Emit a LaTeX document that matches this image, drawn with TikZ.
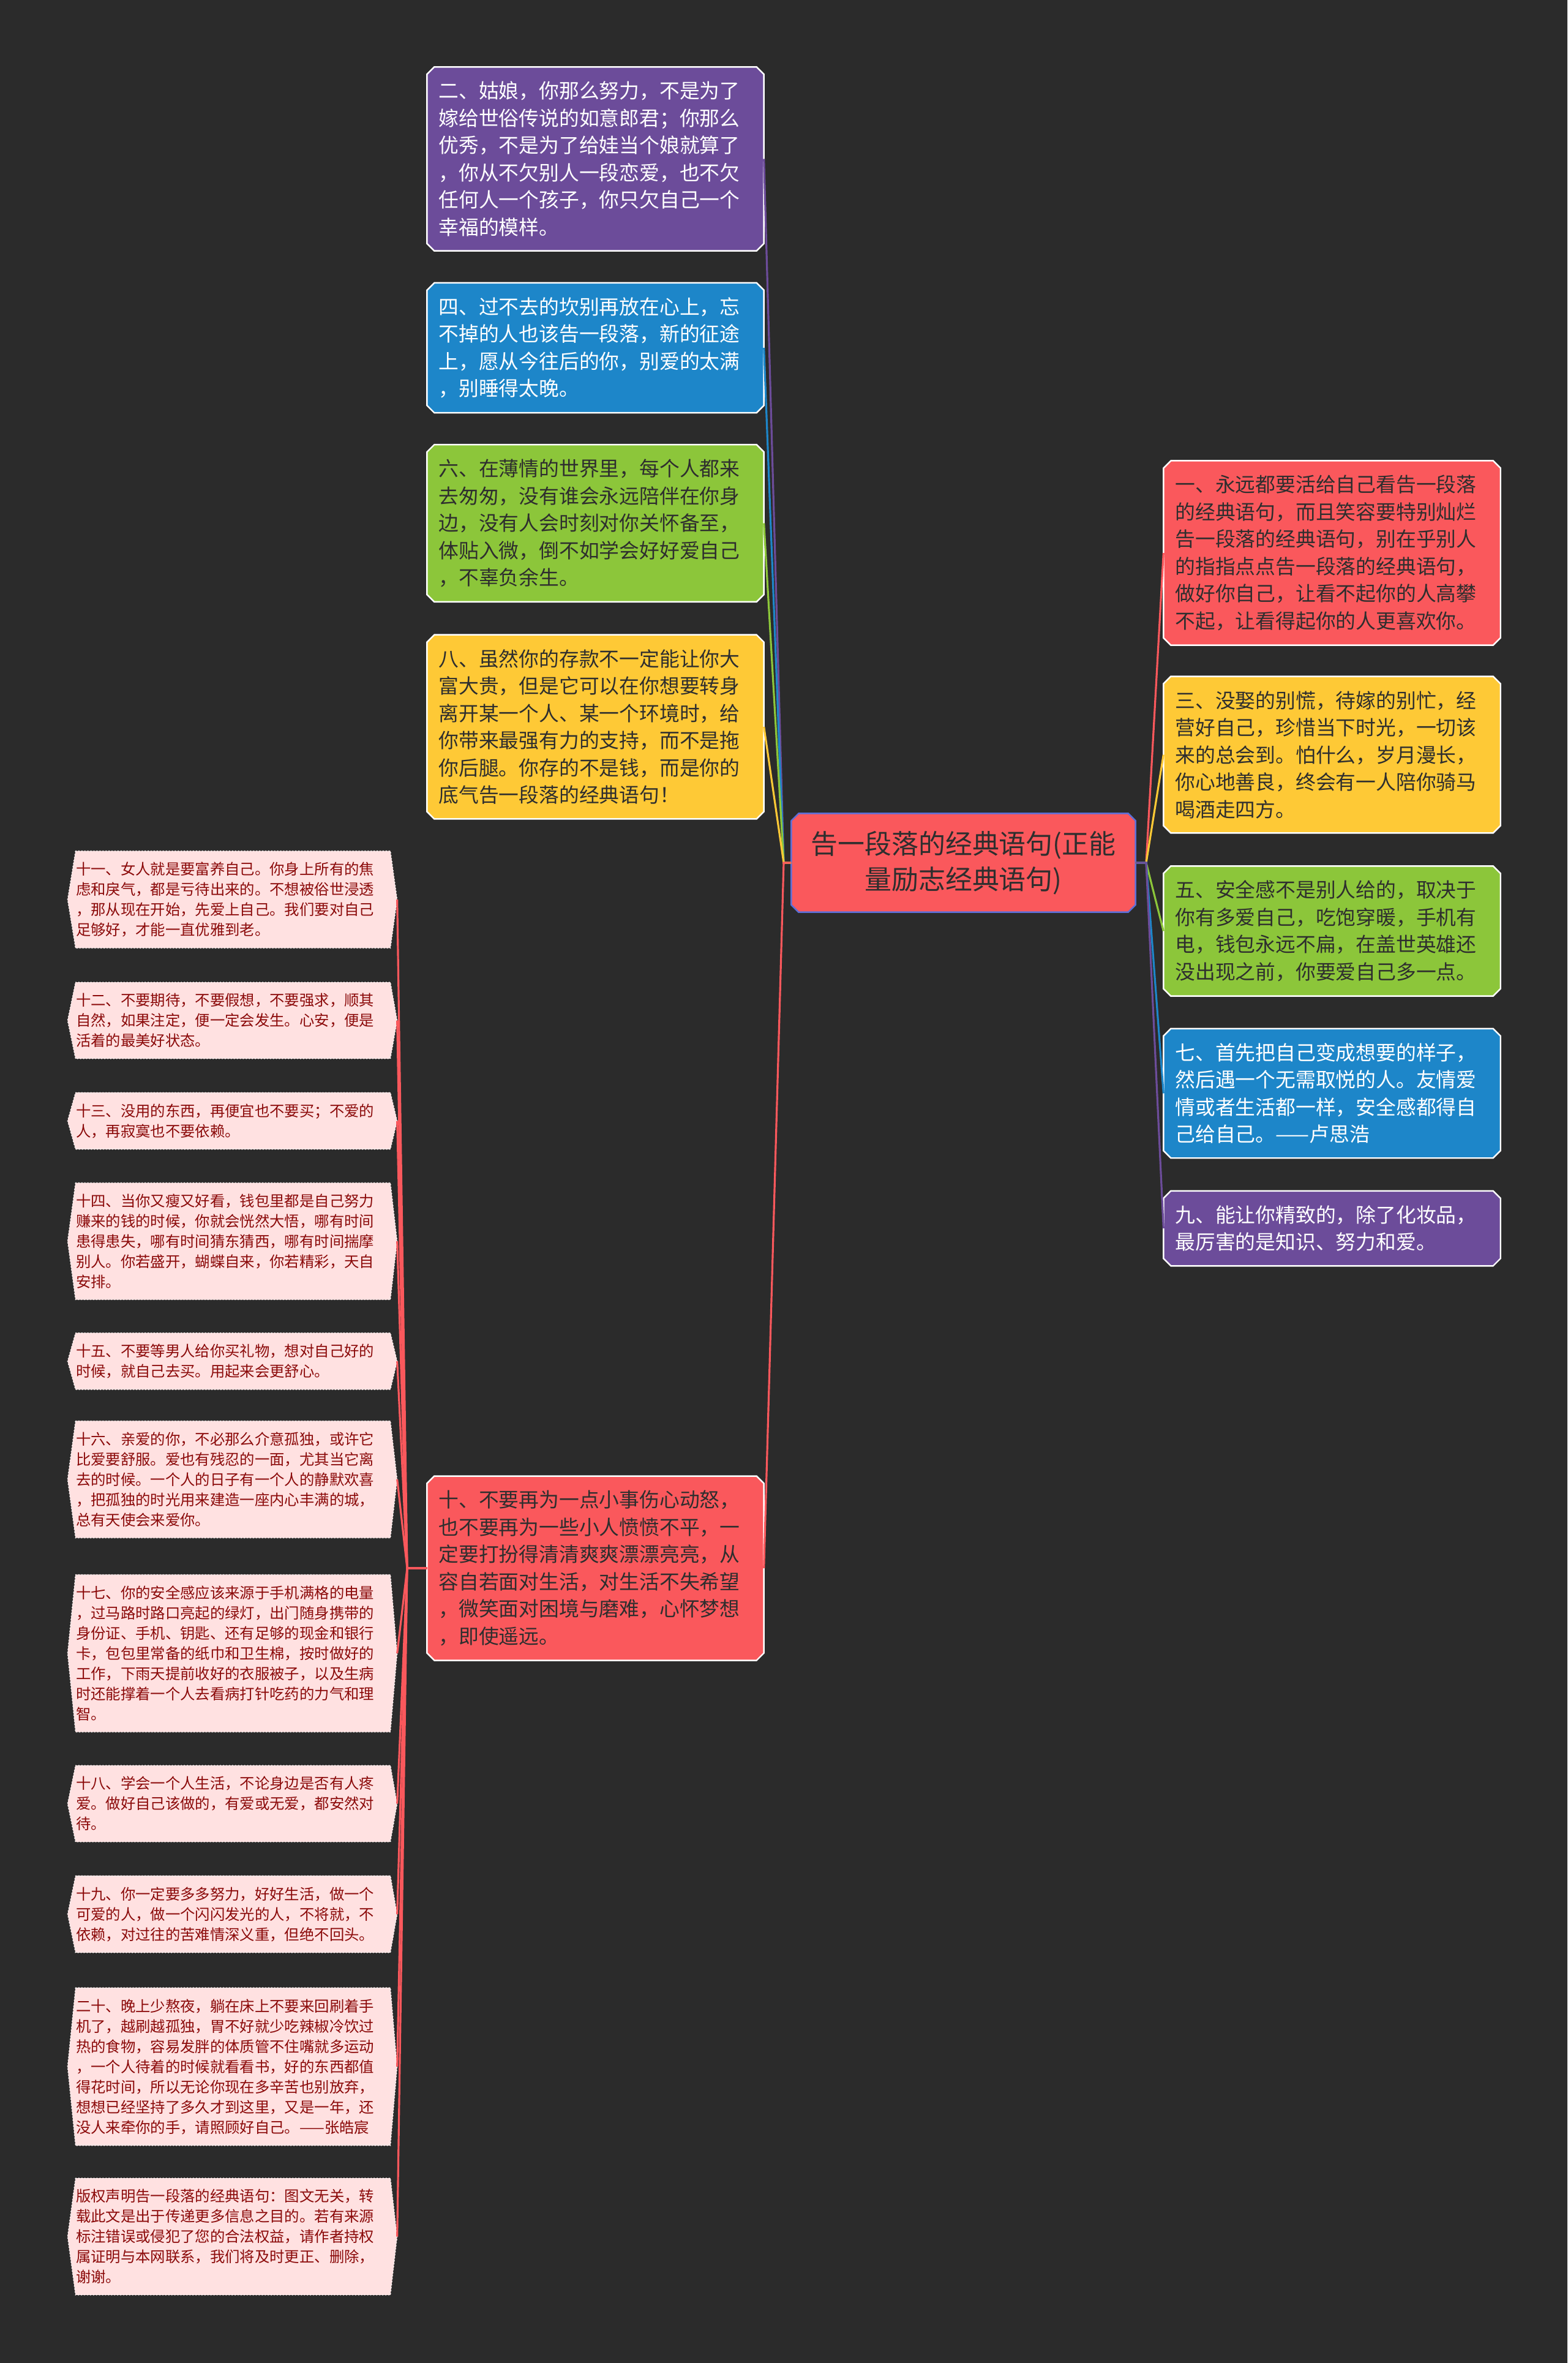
\documentclass[tikz,border=0pt]{standalone}
\usepackage{fontspec}
\setmainfont{Noto Sans CJK SC}
\usepackage{tikz}
\usetikzlibrary{backgrounds}
\usepackage{xcolor}

\definecolor{bgdark}{HTML}{2B2B2B}
\definecolor{boxred}{HTML}{FA585C}
\definecolor{boxpurple}{HTML}{6C4C9A}
\definecolor{boxblue}{HTML}{1D86C9}
\definecolor{boxgreen}{HTML}{8CC63A}
\definecolor{boxyellow}{HTML}{FEC936}
\definecolor{hubblue}{HTML}{5B6FD8}
\definecolor{inkdark}{HTML}{2E2E2E}
\definecolor{leafpink}{HTML}{FFE1E1}
\definecolor{leafred}{HTML}{8B0A0A}

\tikzset{
  hub/.style={rectangle, inner xsep=0pt, inner ysep=2.8mm, text width=56.1mm, align=center,
    text=inkdark, font=\fontsize{12.5pt}{16.5pt}\selectfont},
  topic/.style={rectangle, inner xsep=1.85mm, inner ysep=2.3mm, text width=51.2mm, align=left,
    text=inkdark, font=\fontsize{9.33pt}{12.66pt}\selectfont},
  leaf/.style={rectangle, inner xsep=0pt, inner ysep=1.75mm, text width=51.3mm, align=left,
    text=leafred, font=\fontsize{6.93pt}{9.39pt}\selectfont},
  link/.style={line width=0.9pt},
}

\begin{document}
\begin{tikzpicture}[x=1cm, y=-1cm]

    \useasboundingbox (0,0) rectangle (25.6,38.59);
    \begin{scope}[on background layer]
      \fill[bgdark] (0,0) rectangle (25.6,38.59);
    \end{scope}

    % Tema central
    \node[hub] (root) at (15.735,14.09) {告一段落的经典语句(正能\\量励志经典语句)};
    \coordinate (jl) at (12.80,14.09);
    \coordinate (jr) at (18.72,14.09);

    % Ramas de la izquierda
    \node[topic, text=white] (n2) at (9.725,2.595) {二、姑娘，你那么努力，不是为了\\嫁给世俗传说的如意郎君；你那么\\优秀，不是为了给娃当个娘就算了\\，你从不欠别人一段恋爱，也不欠\\任何人一个孩子，你只欠自己一个\\幸福的模样。};
    \node[topic, text=white] (n4) at (9.725,5.68) {四、过不去的坎别再放在心上，忘\\不掉的人也该告一段落，新的征途\\上，愿从今往后的你，别爱的太满\\，别睡得太晚。};
    \node[topic] (n6) at (9.725,8.545) {六、在薄情的世界里，每个人都来\\去匆匆，没有谁会永远陪伴在你身\\边，没有人会时刻对你关怀备至，\\体贴入微，倒不如学会好好爱自己\\，不辜负余生。};
    \node[topic] (n8) at (9.725,11.87) {八、虽然你的存款不一定能让你大\\富大贵，但是它可以在你想要转身\\离开某一个人、某一个环境时，给\\你带来最强有力的支持，而不是拖\\你后腿。你存的不是钱，而是你的\\底气告一段落的经典语句！};
    \node[topic] (n10) at (9.725,25.61) {十、不要再为一点小事伤心动怒，\\也不要再为一些小人愤愤不平，一\\定要打扮得清清爽爽漂漂亮亮，从\\容自若面对生活，对生活不失希望\\，微笑面对困境与磨难，心怀梦想\\，即使遥远。};

    % Ramas de la derecha
    \node[topic] (n1) at (21.755,9.03) {一、永远都要活给自己看告一段落\\的经典语句，而且笑容要特别灿烂\\告一段落的经典语句，别在乎别人\\的指指点点告一段落的经典语句，\\做好你自己，让看不起你的人高攀\\不起，让看得起你的人更喜欢你。};
    \node[topic] (n3) at (21.755,12.325) {三、没娶的别慌，待嫁的别忙，经\\营好自己，珍惜当下时光，一切该\\来的总会到。怕什么，岁月漫长，\\你心地善良，终会有一人陪你骑马\\喝酒走四方。};
    \node[topic] (n5) at (21.755,15.205) {五、安全感不是别人给的，取决于\\你有多爱自己，吃饱穿暖，手机有\\电，钱包永远不扁，在盖世英雄还\\没出现之前，你要爱自己多一点。};
    \node[topic, text=white] (n7) at (21.755,17.855) {七、首先把自己变成想要的样子，\\然后遇一个无需取悦的人。友情爱\\情或者生活都一样，安全感都得自\\己给自己。——卢思浩};
    \node[topic, text=white] (n9) at (21.755,20.06) {九、能让你精致的，除了化妆品，\\最厉害的是知识、努力和爱。};

    % Hojas del nodo diez
    \coordinate (jp) at (6.65,25.61);
    \node[leaf] (p11) at (3.805,14.69) {十一、女人就是要富养自己。你身上所有的焦\\虑和戾气，都是亏待出来的。不想被俗世浸透\\，那从现在开始，先爱上自己。我们要对自己\\足够好，才能一直优雅到老。};
    \node[leaf] (p12) at (3.805,16.665) {十二、不要期待，不要假想，不要强求，顺其\\自然，如果注定，便一定会发生。心安，便是\\活着的最美好状态。};
    \node[leaf] (p13) at (3.805,18.305) {十三、没用的东西，再便宜也不要买；不爱的\\人，再寂寞也不要依赖。};
    \node[leaf] (p14) at (3.805,20.27) {十四、当你又瘦又好看，钱包里都是自己努力\\赚来的钱的时候，你就会恍然大悟，哪有时间\\患得患失，哪有时间猜东猜西，哪有时间揣摩\\别人。你若盛开，蝴蝶自来，你若精彩，天自\\安排。};
    \node[leaf] (p15) at (3.805,22.23) {十五、不要等男人给你买礼物，想对自己好的\\时候，就自己去买。用起来会更舒心。};
    \node[leaf] (p16) at (3.805,24.16) {十六、亲爱的你，不必那么介意孤独，或许它\\比爱要舒服。爱也有残忍的一面，尤其当它离\\去的时候。一个人的日子有一个人的静默欢喜\\，把孤独的时光用来建造一座内心丰满的城，\\总有天使会来爱你。};
    \node[leaf] (p17) at (3.805,27.00) {十七、你的安全感应该来源于手机满格的电量\\，过马路时路口亮起的绿灯，出门随身携带的\\身份证、手机、钥匙、还有足够的现金和银行\\卡，包包里常备的纸巾和卫生棉，按时做好的\\工作，下雨天提前收好的衣服被子，以及生病\\时还能撑着一个人去看病打针吃药的力气和理\\智。};
    \node[leaf] (p18) at (3.805,29.455) {十八、学会一个人生活，不论身边是否有人疼\\爱。做好自己该做的，有爱或无爱，都安然对\\待。};
    \node[leaf] (p19) at (3.805,31.26) {十九、你一定要多多努力，好好生活，做一个\\可爱的人，做一个闪闪发光的人，不将就，不\\依赖，对过往的苦难情深义重，但绝不回头。};
    \node[leaf] (p20) at (3.805,33.75) {二十、晚上少熬夜，躺在床上不要来回刷着手\\机了，越刷越孤独，胃不好就少吃辣椒冷饮过\\热的食物，容易发胖的体质管不住嘴就多运动\\，一个人待着的时候就看看书，好的东西都值\\得花时间，所以无论你现在多辛苦也别放弃，\\想想已经坚持了多久才到这里，又是一年，还\\没人来牵你的手，请照顾好自己。——张皓宸};
    \node[leaf] (pcr) at (3.805,36.525) {版权声明告一段落的经典语句：图文无关，转\\载此文是出于传递更多信息之目的。若有来源\\标注错误或侵犯了您的合法权益，请作者持权\\属证明与本网联系，我们将及时更正、删除，\\谢谢。};

    % Fondos de las cajas
    \begin{scope}[on background layer]
      \foreach \n/\c/\b in {root/boxred/hubblue, n1/boxred/white, n2/boxpurple/white, n3/boxyellow/white,
          n4/boxblue/white, n5/boxgreen/white, n6/boxgreen/white, n7/boxblue/white,
          n8/boxyellow/white, n9/boxpurple/white, n10/boxred/white}
        \filldraw[fill=\c, draw=\b, line width=0.7pt]
          ([xshift=1.2mm]\n.north west) -- ([xshift=-1.2mm]\n.north east)
          -- ([yshift=-1.2mm]\n.north east) -- ([yshift=1.2mm]\n.south east)
          -- ([xshift=-1.2mm]\n.south east) -- ([xshift=1.2mm]\n.south west)
          -- ([yshift=1.2mm]\n.south west) -- ([yshift=-1.2mm]\n.north west) -- cycle;
      \foreach \n in {p11,p12,p13,p14,p15,p16,p17,p18,p19,p20,pcr}
        \filldraw[fill=leafpink, draw=white, densely dotted, line width=0.4pt]
          (\n.north west) -- (\n.north east) -- ([xshift=1.1mm]\n.east)
          -- (\n.south east) -- (\n.south west) -- ([xshift=-1.3mm]\n.west) -- cycle;
    \end{scope}

    % Conectores
    \draw[link, boxpurple] (root.west) -- (jl) -- (n2.east);
    \draw[link, boxblue] (root.west) -- (jl) -- (n4.east);
    \draw[link, boxgreen] (root.west) -- (jl) -- (n6.east);
    \draw[link, boxyellow] (root.west) -- (jl) -- (n8.east);
    \draw[link, boxred] (root.west) -- (jl) -- (n10.east);
    \draw[link, boxred] (root.east) -- (jr) -- (n1.west);
    \draw[link, boxyellow] (root.east) -- (jr) -- (n3.west);
    \draw[link, boxgreen] (root.east) -- (jr) -- (n5.west);
    \draw[link, boxblue] (root.east) -- (jr) -- (n7.west);
    \draw[link, boxpurple] (root.east) -- (jr) -- (n9.west);
    \draw[link, boxred] (n10.west) -- (jp) -- ([xshift=1.1mm]p11.east);
    \draw[link, boxred] (n10.west) -- (jp) -- ([xshift=1.1mm]p12.east);
    \draw[link, boxred] (n10.west) -- (jp) -- ([xshift=1.1mm]p13.east);
    \draw[link, boxred] (n10.west) -- (jp) -- ([xshift=1.1mm]p14.east);
    \draw[link, boxred] (n10.west) -- (jp) -- ([xshift=1.1mm]p15.east);
    \draw[link, boxred] (n10.west) -- (jp) -- ([xshift=1.1mm]p16.east);
    \draw[link, boxred] (n10.west) -- (jp) -- ([xshift=1.1mm]p17.east);
    \draw[link, boxred] (n10.west) -- (jp) -- ([xshift=1.1mm]p18.east);
    \draw[link, boxred] (n10.west) -- (jp) -- ([xshift=1.1mm]p19.east);
    \draw[link, boxred] (n10.west) -- (jp) -- ([xshift=1.1mm]p20.east);
    \draw[link, boxred] (n10.west) -- (jp) -- ([xshift=1.1mm]pcr.east);

\end{tikzpicture}
\end{document}
